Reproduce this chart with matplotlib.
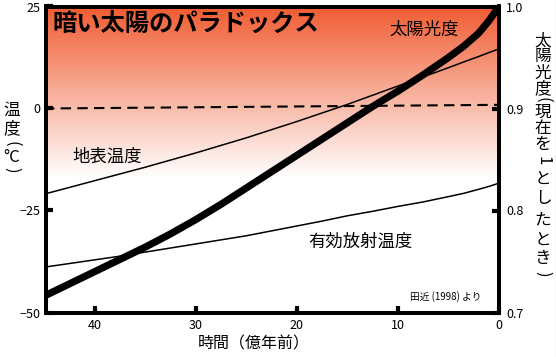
import numpy as np
import matplotlib
matplotlib.use('Agg')
import matplotlib.pyplot as plt
from matplotlib.lines import Line2D

plt.rcParams['font.family'] = ['Noto Sans CJK JP', 'DejaVu Sans']

# 時間（億年前）
time = [45, 42.5, 40, 37.5, 35, 32.5, 30, 27.5, 25, 22.5, 20,
        17.5, 15, 12.5, 10, 7.5, 5, 3.5, 2, 1, 0]
# 太陽光度（現在を1）
luminosity = [0.716, 0.728, 0.740, 0.752, 0.764, 0.777, 0.791, 0.806, 0.822, 0.838, 0.854,
              0.870, 0.886, 0.902, 0.917, 0.933, 0.950, 0.961, 0.974, 0.986, 1.0]
# 地表温度 (°C)
surface_temp = [-21.0, -19.35, -17.7, -16.05, -14.4, -12.65, -10.9, -9.05, -7.2, -5.2, -3.2,
                -1.1, 1.0, 3.25, 5.5, 7.75, 10.0, 11.4, 12.75, 13.7, 14.6]
# 有効放射温度 (°C)
effective_temp = [-38.9, -38.0, -37.1, -36.2, -35.2, -34.2, -33.2, -32.2, -31.2, -30.0, -28.8,
                  -27.6, -26.3, -25.2, -24.0, -22.9, -21.6, -20.8, -19.8, -19.1, -18.3]
# 凍結ライン
freeze_time = [45, 0]
freeze_temp = [0, 0.9]

xticks = [40, 30, 20, 10, 0]
yticks_left = [25, 0, -25, -50]
yticks_right = [1.0, 0.9, 0.8, 0.7]

W, H = 556, 357
fig = plt.figure(figsize=(W / 100, H / 100), dpi=100)
fig.patch.set_facecolor('white')

ax = fig.add_axes([46 / W, 44.5 / H, 453 / W, 306 / H])
ax.set_xlim(44.8, 0)
ax.set_ylim(-50, 25)

# background gradient: orange at top -> white
top = np.array([240, 92, 50]) / 255
yy = np.linspace(25, -50, 300)
frac = np.clip((25 - yy) / 42.0, 0, 1)
grad = top[None, :] * (1 - frac[:, None]) + frac[:, None]
ax.imshow(grad[:, None, :], extent=[44.8, 0, -50, 25], aspect='auto', zorder=0)

ax.plot(time, surface_temp, color='black', lw=1.1, zorder=3)
ax.plot(time, effective_temp, color='black', lw=1.1, zorder=3)
ax.plot(freeze_time, freeze_temp, color='black', lw=1.5, dashes=(5, 3), zorder=3)

ax2 = ax.twinx()
ax2.set_ylim(0.7, 1.0)
ax2.plot(time, luminosity, color='black', lw=5.2, solid_capstyle='butt',
         solid_joinstyle='round', zorder=4)

for a in (ax, ax2):
    for s in a.spines.values():
        s.set_linewidth(2.8)
        s.set_zorder(10)

ax.set_xticks(xticks)
ax.set_xticklabels([str(v) for v in xticks])
ax.set_yticks(yticks_left)
ax.set_yticklabels([str(v).replace('-', '\u2212') for v in yticks_left])
ax2.set_yticks(yticks_right)
ax2.set_yticklabels(['%.1f' % v for v in yticks_right])

ax.tick_params(axis='both', direction='in', length=5, width=3, labelsize=9, pad=4)
ax.tick_params(axis='x', pad=5)
ax2.tick_params(axis='y', direction='in', length=5, width=3, labelsize=9, pad=5)


def px(x, y):
    return x / W, 1 - y / H


fig.text(*px(52, 24), '暗い太陽のパラドックス', fontsize=17.5, fontweight='bold',
         ha='left', va='center')
fig.text(*px(424, 30), '太陽光度', fontsize=12.5, ha='center', va='center')
fig.text(*px(107, 157), '地表温度', fontsize=12.5, ha='center', va='center')
fig.text(*px(360, 242), '有効放射温度', fontsize=12.5, ha='center', va='center')
fig.text(*px(446, 297), '田近 (1998) より', fontsize=7, ha='center', va='center')

fig.text(*px(254, 344), '時間（億年前）', fontsize=11.5, ha='center', va='center')

# vertical y labels, one character at a time
left_chars = ['温', '度', '(', '°C', ')']
left_y = [110, 129, 144, 157, 170]
for c, y in zip(left_chars, left_y):
    rot = -90 if c in '()' else 0
    fig.text(*px(12, y), c, fontsize=12, ha='center', va='center', rotation=rot)

right_chars = ['太', '陽', '光', '度', '(', '現', '在', 'を', '1',
               'と', 'し', 'た', 'と', 'き', ')']
right_y = [41, 57, 73, 89, 100, 112, 128, 145, 161, 179, 198, 220, 240, 258, 274]
for c, y in zip(right_chars, right_y):
    rot = -90 if c in '()1' else 0
    fig.text(*px(543, y), c, fontsize=12, ha='center', va='center', rotation=rot)

fig.add_artist(Line2D([555.5 / W, 555.5 / W], [0, 1], color='#999999', lw=0.8))

fig.savefig('out.png', dpi=100)
